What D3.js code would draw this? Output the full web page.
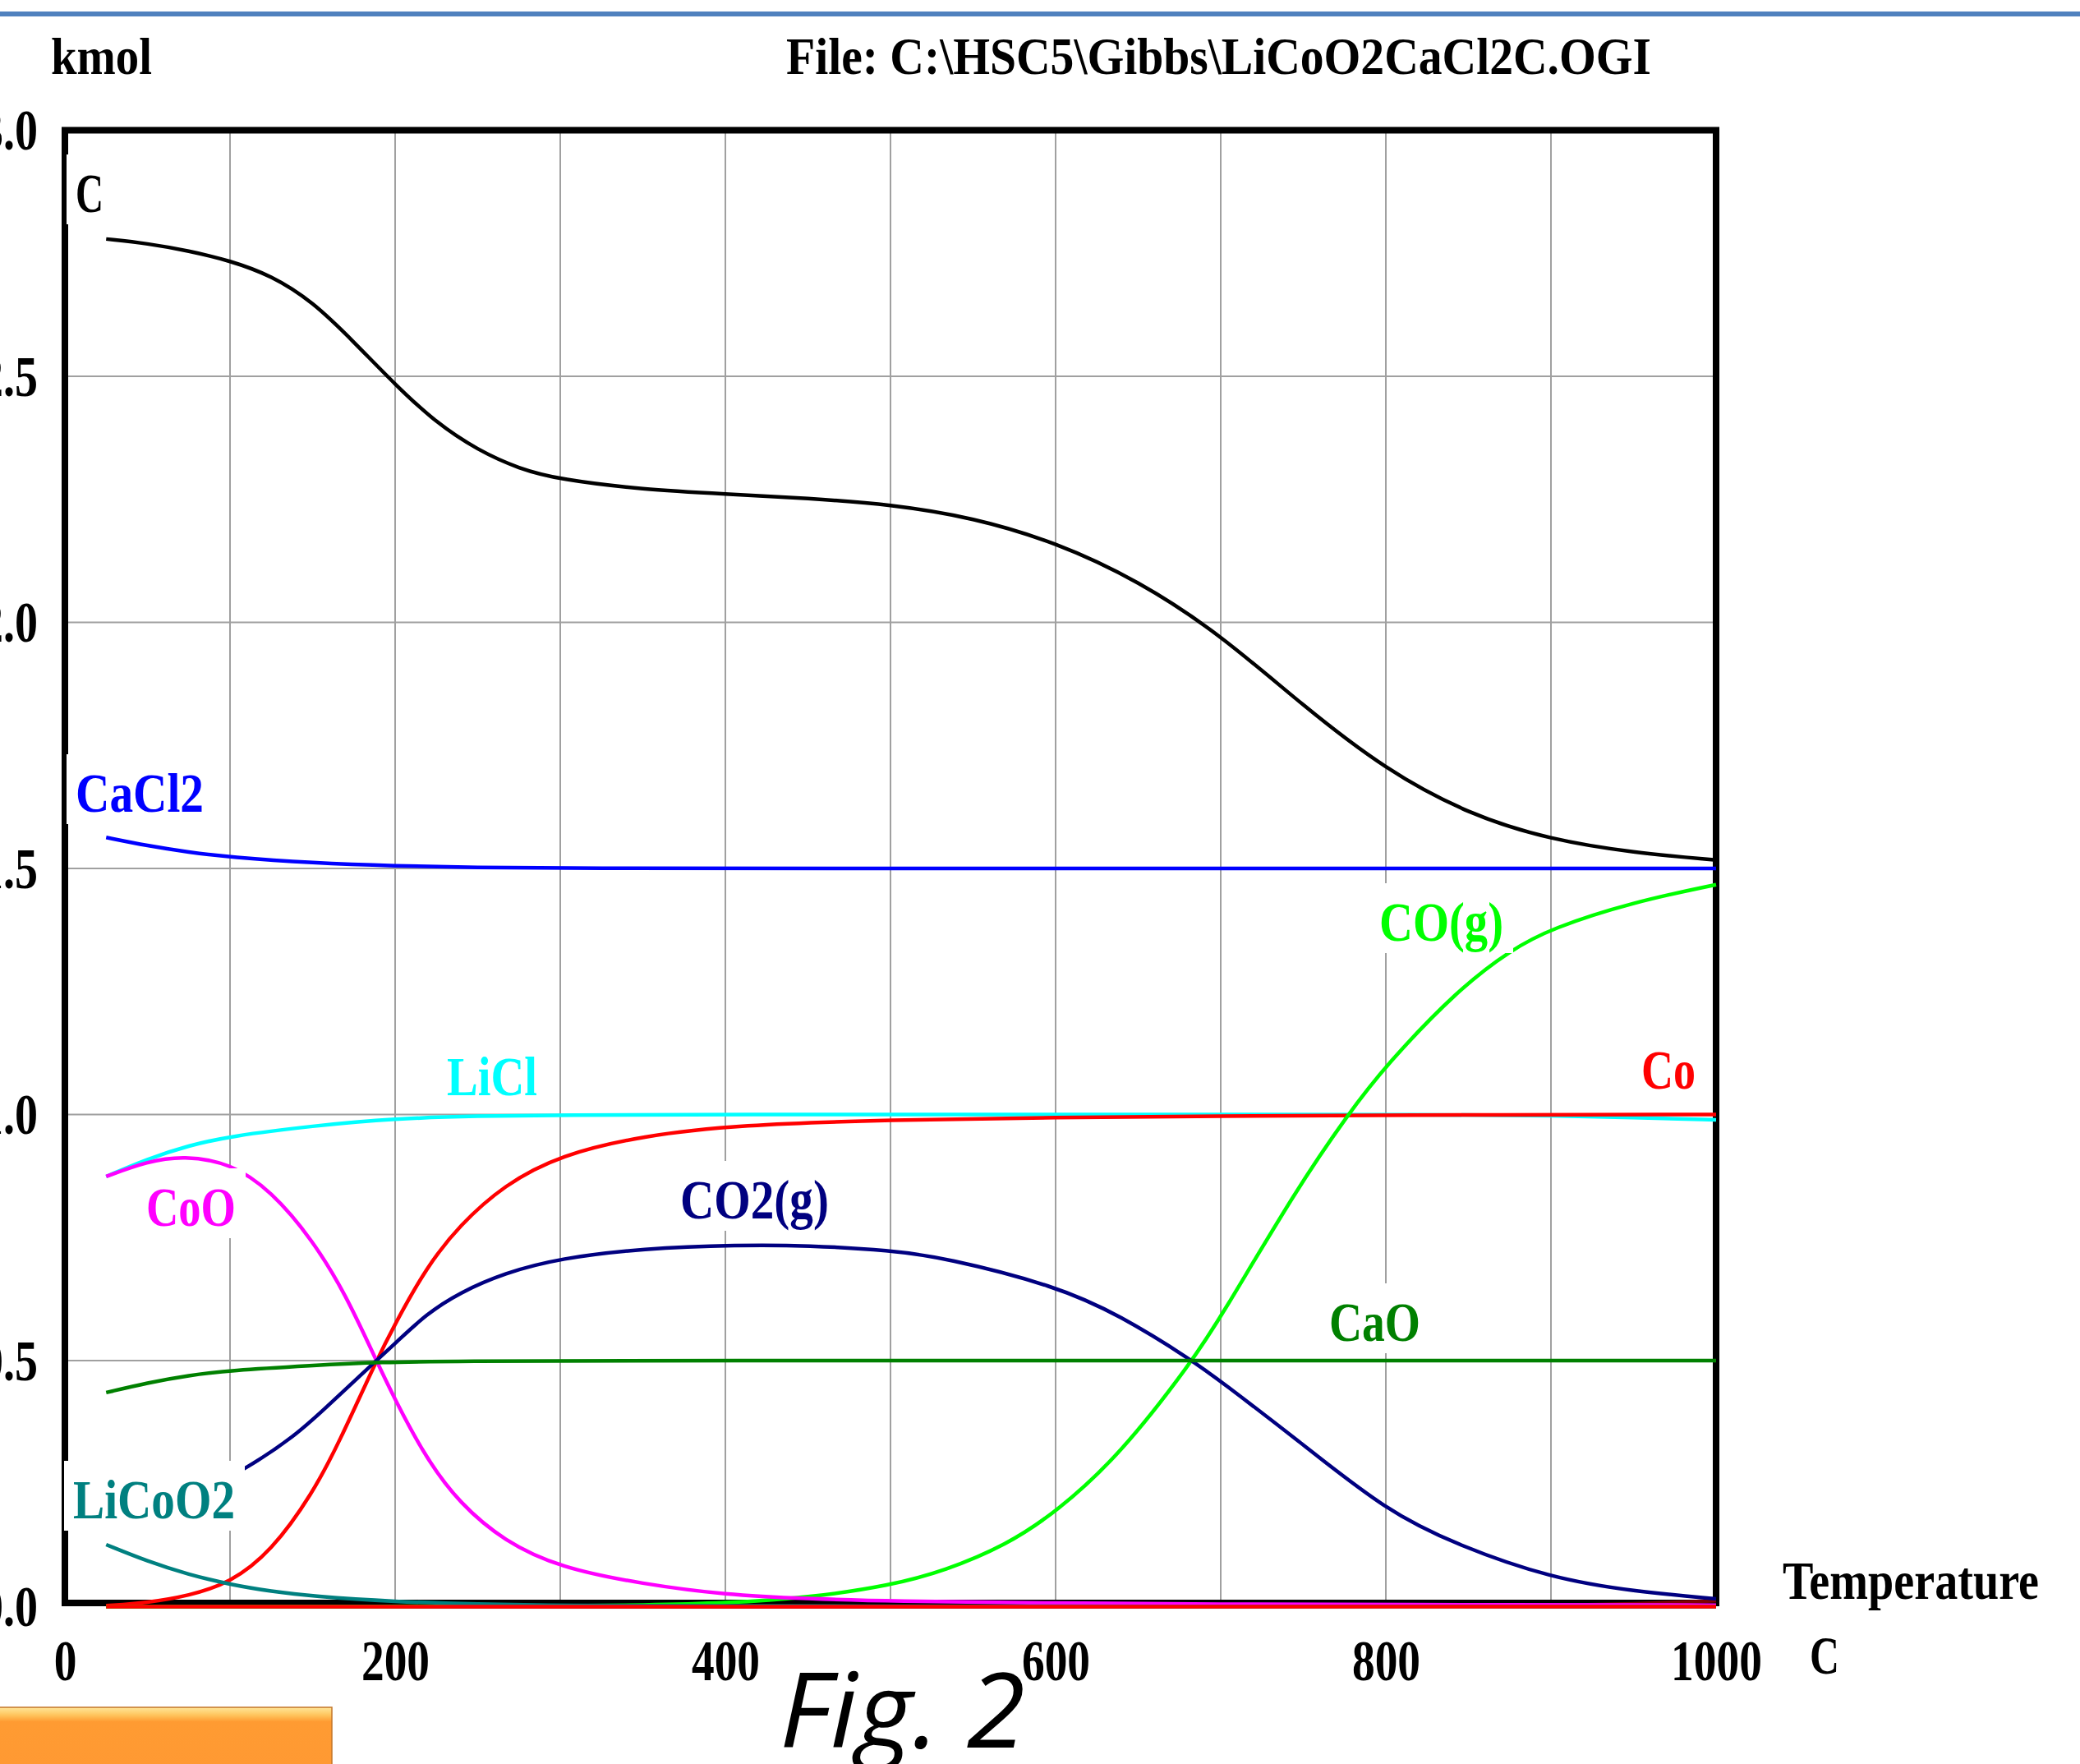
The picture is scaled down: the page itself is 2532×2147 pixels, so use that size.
<!DOCTYPE html>
<html>
<head>
<meta charset="utf-8">
<script src="https://cdnjs.cloudflare.com/ajax/libs/d3/7.8.5/d3.min.js"></script>
<style>
  body { margin: 0; background: #fff; }
  svg { display: block; }
</style>
</head>
<body>
<svg id="chart"></svg>
<script>
(function (d3) {
    "use strict";

    // --- data (temperature C, amount kmol) ---
    var xTicks = [0, 200, 400, 600, 800, 1000];
    var yTicks = [0, 0.5, 1.0, 1.5, 2.0, 2.5, 3.0];

    var seriesNames = ["C", "CaCl2", "LiCl", "Co", "CO(g)", "CoO", "CO2(g)", "CaO", "LiCoO2"];
    var seriesColors = ["#000000", "#0000ff", "#00ffff", "#ff0000", "#00ff00", "#ff00ff", "#000080", "#008000", "#008080"];

    var cData = [[25, 2.779], [50, 2.77], [75, 2.755], [100, 2.735], [125, 2.705], [150, 2.652], [175, 2.57],
        [200, 2.483], [225, 2.405], [250, 2.35], [275, 2.312], [300, 2.29], [350, 2.27], [400, 2.261],
        [450, 2.252], [500, 2.24], [550, 2.213], [600, 2.163], [650, 2.085], [700, 1.975], [750, 1.83],
        [800, 1.70], [850, 1.61], [900, 1.558], [950, 1.532], [1000, 1.517]];
    var cacl2Data = [[25, 1.563], [50, 1.546], [75, 1.533], [100, 1.523], [150, 1.511], [200, 1.505],
        [250, 1.502], [300, 1.5], [500, 1.5], [800, 1.5], [1000, 1.5]];
    var liclData = [[25, 0.874], [50, 0.91], [75, 0.937], [100, 0.956], [150, 0.977], [200, 0.992],
        [250, 0.997], [300, 0.999], [400, 1.0], [600, 1.0], [850, 1.0], [900, 0.998], [950, 0.994], [1000, 0.989]];
    var coData = [[25, 0.002], [50, 0.008], [75, 0.022], [100, 0.048], [125, 0.112], [150, 0.23], [166, 0.333],
        [188.6, 0.5], [200, 0.575], [219, 0.69], [239, 0.775], [266, 0.857], [300, 0.918], [350, 0.957],
        [408, 0.979], [500, 0.989], [600, 0.994], [700, 0.997], [800, 0.999], [1000, 1.0]];
    var coGasData = [[25, 0], [200, 0.0005], [300, 0.001], [350, 0.003], [400, 0.007], [450, 0.018],
        [500, 0.043], [533, 0.073], [570, 0.125], [600, 0.191], [639, 0.308], [683, 0.5], [700, 0.588],
        [746, 0.849], [777, 1.0], [800, 1.10], [844, 1.255], [876, 1.335], [900, 1.378], [950, 1.432],
        [1000, 1.467]];
    var cooData = [[25, 0.874], [50, 0.905], [72, 0.916], [100, 0.902], [125, 0.845], [150, 0.745],
        [170, 0.635], [188.6, 0.5], [200, 0.42], [219, 0.30], [239, 0.21], [266, 0.133], [300, 0.079],
        [350, 0.046], [400, 0.024], [450, 0.016], [500, 0.011], [600, 0.007], [700, 0.005], [800, 0.004],
        [1000, 0.003]];
    var co2Data = [[25, 0.165], [50, 0.19], [75, 0.22], [110, 0.28], [140, 0.349], [156, 0.398],
        [188.6, 0.5], [200, 0.535], [219, 0.595], [239, 0.638], [266, 0.678], [300, 0.708], [350, 0.728],
        [408, 0.735], [450, 0.734], [500, 0.724], [533, 0.709], [600, 0.652], [639, 0.592], [683, 0.5],
        [700, 0.458], [746, 0.34], [800, 0.195], [844, 0.124], [900, 0.058], [950, 0.031], [1000, 0.016]];
    var caoData = [[25, 0.435], [50, 0.455], [75, 0.47], [100, 0.48], [150, 0.49], [188.6, 0.497],
        [250, 0.499], [300, 0.5], [1000, 0.5]];
    var licoo2Data = [[25, 0.126], [50, 0.092], [75, 0.065], [100, 0.045], [125, 0.031], [150, 0.021],
        [200, 0.01], [250, 0.005], [300, 0.002], [400, 0.001], [1000, 0]];
    // unlabelled species that stay at the bottom
    var zeroData = [[25, 0], [1000, 0]];
    var tailData = [[25, 0], [850, 0], [900, 0.002], [950, 0.005], [1000, 0.012]];

    var seriesData = [cData, cacl2Data, liclData, coData, coGasData, cooData, co2Data, caoData, licoo2Data];

    // --- layout ---
    var W = 2532, H = 2147;
    var serif = "'Liberation Serif', 'Times New Roman', serif";

    var labelLayout = {
        "C": {x: 92, y: 258, w: 34},
        "CaCl2": {x: 92, y: 988, w: 156},
        "LiCl": {x: 544, y: 1333, w: 110},
        "Co": {x: 1998, y: 1325, w: 66},
        "CO(g)": {x: 1679, y: 1145, w: 151},
        "CoO": {x: 178, y: 1492, w: 109},
        "CO2(g)": {x: 828, y: 1483, w: 181},
        "CaO": {x: 1618, y: 1632, w: 111},
        "LiCoO2": {x: 89, y: 1848, w: 197}
    };

    var svg = d3.select("#chart").attr("width", W).attr("height", H);

    var x = d3.scaleLinear().domain([0, 1000]).range([79, 2089]);
    var y = d3.scaleLinear().domain([0, 3]).range([1955.5, 158.5]);

    function addText(g, str, tx, ty, size, width, color, opts) {
        opts = opts || {};
        return g.append("text")
            .attr("x", tx)
            .attr("y", ty)
            .attr("font-family", opts.family || serif)
            .attr("font-weight", opts.weight || "bold")
            .attr("font-style", opts.style || "normal")
            .attr("font-size", size)
            .attr("fill", color)
            .attr("textLength", width)
            .attr("lengthAdjust", "spacingAndGlyphs")
            .text(str);
    }

    // slide decoration
    svg.append("rect").attr("x", 0).attr("y", 14).attr("width", W).attr("height", 6).attr("fill", "#5081be");

    var grad = svg.append("defs").append("linearGradient")
        .attr("id", "orange").attr("x1", 0).attr("y1", 0).attr("x2", 0).attr("y2", 1);
    grad.append("stop").attr("offset", "0%").attr("stop-color", "#ffe79a");
    grad.append("stop").attr("offset", "12%").attr("stop-color", "#ffc45c");
    grad.append("stop").attr("offset", "22%").attr("stop-color", "#ff9b32");
    grad.append("stop").attr("offset", "100%").attr("stop-color", "#ff9933");
    svg.append("rect").attr("x", -4).attr("y", 2078).attr("width", 408).attr("height", 80)
        .attr("fill", "url(#orange)").attr("stroke", "#c4762a").attr("stroke-width", 1.5);

    // grid
    var grid = svg.append("g").attr("stroke", "#a0a0a0").attr("stroke-width", 2);
    grid.selectAll("line.v").data(d3.range(100, 1000, 100)).enter().append("line")
        .attr("x1", function (d) { return x(d); }).attr("x2", function (d) { return x(d); })
        .attr("y1", y(3)).attr("y2", y(0));
    grid.selectAll("line.h").data([0.5, 1.0, 1.5, 2.0, 2.5]).enter().append("line")
        .attr("x1", x(0)).attr("x2", x(1000))
        .attr("y1", function (d) { return y(d); }).attr("y2", function (d) { return y(d); });

    // frame
    svg.append("rect").attr("x", x(0)).attr("y", y(3)).attr("width", x(1000) - x(0)).attr("height", 1951 - y(3))
        .attr("fill", "none").attr("stroke", "#000").attr("stroke-width", 8);

    // axes, tick labels only
    var xAxis = svg.append("g")
        .call(d3.axisBottom(x).tickValues(xTicks).tickSize(0).tickFormat(d3.format("d")));
    xAxis.select(".domain").remove();
    xAxis.selectAll(".tick text")
        .attr("y", 2045).attr("dy", null)
        .attr("text-anchor", "start")
        .attr("font-family", serif).attr("font-weight", "bold").attr("font-size", 69).attr("fill", "#000")
        .attr("lengthAdjust", "spacingAndGlyphs")
        .each(function (d) {
            var w = String(d).length * 27.7;
            d3.select(this).attr("x", -w / 2).attr("textLength", w);
        });

    var yAxis = svg.append("g").attr("transform", "translate(" + x(0) + ",0)")
        .call(d3.axisLeft(y).tickValues(yTicks).tickSize(0).tickFormat(d3.format(".1f")));
    yAxis.select(".domain").remove();
    yAxis.selectAll(".tick text")
        .attr("x", 46 - 70 - x(0)).attr("y", 23).attr("dy", null)
        .attr("text-anchor", "start")
        .attr("font-family", serif).attr("font-weight", "bold").attr("font-size", 69).attr("fill", "#000")
        .attr("textLength", 70).attr("lengthAdjust", "spacingAndGlyphs");

    // curves
    var line = d3.line()
        .x(function (d) { return x(d[0]); })
        .y(function (d) { return y(d[1]); })
        .curve(d3.curveBasis);

    var curves = svg.append("g").attr("fill", "none").attr("stroke-width", 4.5).attr("stroke-linejoin", "round");
    curves.append("path").datum(tailData).attr("d", line).attr("stroke", "#800000");
    seriesData.forEach(function (data, i) {
        curves.append("path").datum(data).attr("d", line).attr("stroke", seriesColors[i]);
    });
    curves.append("path").datum(zeroData).attr("d", line).attr("stroke", "#ff0000");

    // curve labels with white boxes
    var labels = svg.append("g");
    seriesNames.forEach(function (name, i) {
        var L = labelLayout[name];
        labels.append("rect")
            .attr("x", L.x - 11).attr("y", L.y - 70)
            .attr("width", L.w + 23).attr("height", 85)
            .attr("fill", "#fff");
        addText(labels, name, L.x, L.y, 68, L.w, seriesColors[i]);
    });

    // titles
    addText(svg, "kmol", 62, 90, 64, 123, "#000");
    addText(svg, "File: C:\\HSC5\\Gibbs\\LiCoO2CaCl2C.OGI", 957, 90, 64, 1053, "#000");
    addText(svg, "Temperature", 2170, 1946, 66, 312, "#000");
    addText(svg, "C", 2203, 2037, 66, 36, "#000");

    addText(svg, "Fig. 2", 949, 2127, 126, 299, "#000",
        {family: "'Open Sans', 'DejaVu Sans', sans-serif", weight: "normal", style: "italic"});

}(window.d3));
</script>
</body>
</html>
